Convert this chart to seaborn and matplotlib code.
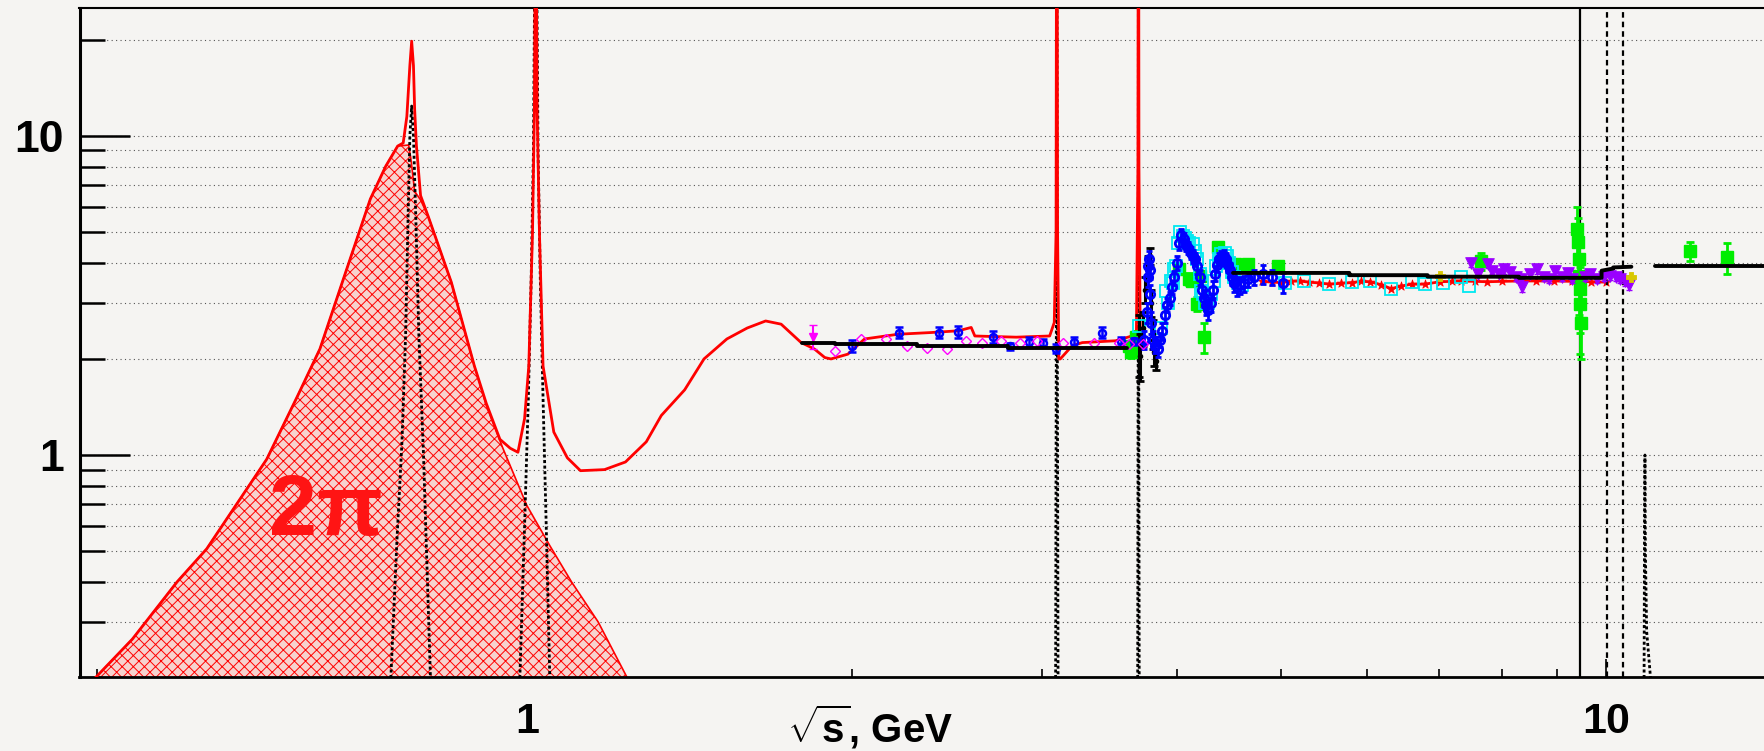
import matplotlib
matplotlib.use("Agg")
import matplotlib.pyplot as plt
import seaborn as sns
from matplotlib.ticker import FixedLocator, FixedFormatter, NullFormatter

# ---------------- data ----------------
# 2pi contribution (hatched area)
x2pi = [0.398, 0.431, 0.474, 0.505, 0.574, 0.613, 0.643, 0.676, 0.716, 0.740, 0.759, 0.777, 0.781,
        0.787, 0.797, 0.810, 0.851, 0.894, 0.917, 0.950, 1.000, 1.050, 1.100, 1.164, 1.239]
y2pi = [0.20, 0.265, 0.40, 0.508, 0.97, 1.53, 2.15, 3.56, 6.34, 8.04, 9.29, 9.36, 8.4,
        6.7, 6.3, 5.6, 3.48, 1.90, 1.43, 1.05, 0.694, 0.52, 0.40, 0.30, 0.20]

# total R (red curve)
red_x = [0.398, 0.431, 0.474, 0.505, 0.574, 0.613, 0.643, 0.676, 0.716, 0.740, 0.759, 0.768, 0.774,
         0.779, 0.782, 0.785, 0.787, 0.790, 0.797, 0.810, 0.851, 0.894, 0.917, 0.944, 0.965, 0.981,
         0.995, 1.004, 1.012, 1.016, 1.019, 1.022, 1.027, 1.035, 1.059, 1.090, 1.121, 1.180, 1.234,
         1.290, 1.332, 1.400, 1.459, 1.532, 1.600, 1.664, 1.720, 1.795, 1.846, 1.888, 1.913, 1.983,
         2.055, 2.207, 2.370, 2.510, 2.580, 2.600, 2.840, 3.050, 3.080, 3.092, 3.097, 3.102, 3.110,
         3.120, 3.200, 3.270, 3.510, 3.620, 3.670, 3.682, 3.686, 3.690, 3.700]
red_y = [0.20, 0.265, 0.40, 0.508, 0.97, 1.53, 2.15, 3.56, 6.34, 8.04, 9.29, 9.50, 11.5,
         16.6, 19.8, 16.6, 12.1, 9.3, 6.5, 5.6, 3.48, 1.90, 1.45, 1.12, 1.05, 1.02,
         1.30, 1.90, 5.0, 12.0, 80.0, 12.0, 5.0, 1.90, 1.18, 0.98, 0.893, 0.90, 0.951,
         1.10, 1.33, 1.60, 2.00, 2.31, 2.50, 2.63, 2.57, 2.25, 2.15, 2.02, 2.00, 2.07,
         2.31, 2.39, 2.42, 2.45, 2.51, 2.36, 2.34, 2.36, 2.60, 5.0, 300.0, 5.0, 2.00,
         2.00, 2.20, 2.25, 2.28, 2.35, 2.43, 8.0, 300.0, 8.0, 2.40]

# red data band above open charm
redband_x = [4.80, 4.90, 5.00, 5.10, 5.20, 5.30, 5.42, 5.54, 5.68, 5.81, 5.93, 6.04, 6.18, 6.32, 6.45,
             6.60, 6.79, 7.01, 7.20, 7.33, 7.55, 7.76, 8.00, 8.33, 8.60, 8.94, 9.30, 9.68, 10.00]
redband_y = [3.50, 3.48, 3.47, 3.50, 3.51, 3.48, 3.46, 3.43, 3.45, 3.47, 3.50, 3.49, 3.42, 3.32, 3.38,
             3.43, 3.43, 3.49, 3.50, 3.51, 3.50, 3.49, 3.50, 3.51, 3.51, 3.51, 3.50, 3.49, 3.48]

# narrow resonances (dotted black)
omega_x = [0.748, 0.758, 0.766, 0.772, 0.776, 0.779, 0.782, 0.785, 0.789, 0.794, 0.802, 0.814]
omega_y = [0.20, 0.55, 1.10, 2.40, 5.50, 10.0, 12.4, 10.0, 5.50, 2.40, 1.00, 0.20]
phi_x = [0.985, 0.995, 1.003, 1.009, 1.014, 1.019, 1.024, 1.029, 1.035, 1.042, 1.050]
phi_y = [0.20, 0.60, 1.50, 3.50, 9.0, 90.0, 9.0, 3.50, 1.50, 0.60, 0.20]
jpsi_x = [3.089, 3.095, 3.097, 3.099, 3.105]
jpsi_y = [0.20, 5.0, 300.0, 5.0, 0.20]
psi2s_x = [3.680, 3.685, 3.686, 3.687, 3.692]
psi2s_y = [0.20, 5.0, 300.0, 5.0, 0.20]
ups5_x = [10.84, 10.85, 10.86, 10.87, 10.90, 10.99]
ups5_y = [0.20, 0.60, 1.00, 0.50, 0.28, 0.20]
ups_solid = [9.46]
ups_dashed = [10.02, 10.36]

# pQCD (black steps)
pqcd1_x = [1.80, 1.93, 1.93, 2.30, 2.30, 2.79, 2.79, 3.60]
pqcd1_y = [2.24, 2.24, 2.22, 2.22, 2.20, 2.20, 2.17, 2.17]
pqcd2_x = [4.51, 5.78, 5.78, 6.83, 6.83, 8.30, 8.30, 9.90, 9.90, 10.15, 10.15, 10.55]
pqcd2_y = [3.72, 3.72, 3.66, 3.66, 3.62, 3.62, 3.59, 3.59, 3.78, 3.84, 3.87, 3.89]
pqcd3_x = [11.10, 14.0]
pqcd3_y = [3.90, 3.90]

# blue open circles (low energy)
blue_lo_x = [2.00, 2.21, 2.41, 2.51, 2.70, 2.80, 2.92, 3.01, 3.09, 3.21, 3.41, 3.55, 3.65]
blue_lo_y = [2.20, 2.42, 2.42, 2.43, 2.34, 2.19, 2.26, 2.25, 2.15, 2.26, 2.42, 2.28, 2.27]
blue_lo_e = [0.10, 0.10, 0.09, 0.10, 0.10, 0.06, 0.08, 0.06, 0.07, 0.08, 0.10, 0.06, 0.06]

# blue open circles (charm region)
blue_cc_x = [3.73, 3.75, 3.76, 3.765, 3.77, 3.775, 3.78, 3.79, 3.80, 3.82, 3.84, 3.86, 3.88, 3.90,
             3.92, 3.94, 3.96, 3.98, 4.00, 4.02, 4.04, 4.06, 4.08, 4.10, 4.12, 4.14, 4.16, 4.18,
             4.20, 4.22, 4.24, 4.26, 4.28, 4.30, 4.32, 4.34, 4.36, 4.38, 4.40, 4.42, 4.44, 4.46,
             4.48, 4.50, 4.52, 4.55, 4.58, 4.62, 4.66, 4.72, 4.81, 4.90, 5.02]
blue_cc_y = [2.3, 2.8, 3.6, 3.9, 4.1, 3.8, 3.2, 2.6, 2.3, 2.2, 2.15, 2.3, 2.45, 2.75,
             2.95, 3.1, 3.35, 3.6, 4.0, 4.6, 4.9, 4.75, 4.55, 4.45, 4.3, 4.2, 4.1, 3.9,
             3.6, 3.3, 3.1, 2.95, 2.85, 3.0, 3.3, 3.7, 3.95, 4.1, 4.15, 4.2, 4.1, 3.95,
             3.8, 3.6, 3.45, 3.35, 3.4, 3.45, 3.55, 3.6, 3.69, 3.6, 3.47]
blue_cc_e = [0.15, 0.2, 0.25, 0.25, 0.25, 0.25, 0.2, 0.2, 0.15, 0.12, 0.12, 0.12, 0.15, 0.15,
             0.15, 0.15, 0.15, 0.18, 0.2, 0.2, 0.2, 0.2, 0.2, 0.2, 0.2, 0.2, 0.2, 0.2,
             0.2, 0.2, 0.2, 0.2, 0.2, 0.2, 0.2, 0.2, 0.2, 0.2, 0.2, 0.2, 0.2, 0.2,
             0.2, 0.2, 0.2, 0.2, 0.2, 0.2, 0.2, 0.2, 0.25, 0.2, 0.25]

# cyan open squares
cyan_x = [3.69, 3.87, 3.91, 3.93, 3.95, 3.97, 3.98, 3.99, 4.01, 4.03, 4.05, 4.07, 4.09, 4.11, 4.14,
          4.16, 4.18, 4.20, 4.21, 4.23, 4.25, 4.28, 4.30, 4.33, 4.35, 4.38, 4.40, 4.43, 4.45, 4.47,
          4.50, 4.52, 4.56, 4.60, 5.04, 5.25, 5.54, 5.81, 6.04, 6.32, 6.60, 6.79, 7.06, 7.33, 7.46]
cyan_y = [2.54, 2.50, 3.27, 3.00, 3.50, 3.45, 3.82, 3.90, 4.60, 4.98, 4.85, 4.80, 4.70, 4.60, 4.58,
          4.35, 4.10, 3.70, 3.27, 3.20, 3.00, 3.00, 3.20, 3.50, 3.90, 4.10, 4.25, 4.31, 4.20, 4.00,
          3.75, 3.60, 3.45, 3.40, 3.47, 3.51, 3.43, 3.49, 3.51, 3.32, 3.49, 3.43, 3.47, 3.60, 3.39]

# green filled squares
green_x = [3.61, 3.63, 3.67, 4.02, 4.11, 4.13, 4.18, 4.20, 4.24, 4.37, 4.53, 4.66, 4.96, 7.65,
           9.40, 9.42, 9.43, 9.44, 9.45, 9.46, 9.47, 11.95, 12.95]
green_y = [2.20, 2.10, 2.35, 3.83, 3.56, 3.51, 2.97, 3.65, 2.34, 4.47, 3.96, 3.96, 3.91, 4.06,
           5.10, 4.64, 4.11, 3.64, 3.31, 2.97, 2.60, 4.35, 4.16]
green_e = [0.08, 0.08, 0.10, 0.15, 0.15, 0.12, 0.15, 0.12, 0.25, 0.15, 0.12, 0.12, 0.15, 0.25,
           0.9, 0.9, 0.9, 0.9, 0.9, 0.9, 0.6, 0.31, 0.47]

# magenta open diamonds and one triangle
mag_x = [1.93, 2.04, 2.15, 2.25, 2.35, 2.45, 2.55, 2.64, 2.75, 2.86, 2.97, 3.14, 3.35, 3.54, 3.61, 3.72]
mag_y = [2.12, 2.31, 2.31, 2.20, 2.17, 2.15, 2.28, 2.25, 2.28, 2.25, 2.28, 2.25, 2.25, 2.25, 2.22, 2.22]
magtri_x = [1.84]
magtri_y = [2.35]
magtri_e = [0.20]

# purple filled inverted triangles
pur_x = [7.49, 7.60, 7.77, 7.84, 7.95, 8.04, 8.15, 8.25, 8.33, 8.36, 8.50, 8.62, 8.75, 8.85,
         8.97, 9.10, 9.21, 9.30, 9.55, 9.65, 9.80, 9.95, 10.09, 10.20, 10.30, 10.41, 10.50]
pur_y = [4.01, 3.70, 3.98, 3.78, 3.70, 3.82, 3.75, 3.60, 3.56, 3.35, 3.70, 3.82, 3.62, 3.55,
         3.78, 3.60, 3.73, 3.55, 3.60, 3.70, 3.55, 3.60, 3.65, 3.60, 3.55, 3.50, 3.40]
pur_e = [0.12, 0.10, 0.12, 0.10, 0.10, 0.12, 0.10, 0.10, 0.10, 0.12, 0.10, 0.12, 0.10, 0.10,
         0.12, 0.10, 0.12, 0.10, 0.10, 0.10, 0.10, 0.10, 0.12, 0.10, 0.10, 0.12, 0.12]

# black points at charm threshold
blk_x = [3.69, 3.70, 3.72, 3.74, 3.76, 3.78, 3.79, 3.80, 3.81, 3.83]
blk_y = [2.25, 2.05, 2.50, 3.30, 3.90, 4.20, 3.00, 2.40, 2.10, 1.97]
blk_e = [0.50, 0.35, 0.30, 0.30, 0.30, 0.25, 0.30, 0.25, 0.20, 0.12]

# yellow stars
yel_x = [7.01, 10.55]
yel_y = [3.65, 3.60]

x_major = [1, 10]
x_major_labels = ["1", "10"]
x_minor = [0.4, 0.5, 0.6, 0.7, 0.8, 0.9, 2, 3, 4, 5, 6, 7, 8, 9]
y_major = [1, 10]
y_major_labels = ["1", "10"]
y_minor = [0.3, 0.4, 0.5, 0.6, 0.7, 0.8, 0.9, 2, 3, 4, 5, 6, 7, 8, 9, 20]

# ---------------- style ----------------
BG = "#f5f4f2"
sns.set_theme(style="white")
plt.rcParams["font.family"] = ["Liberation Sans", "DejaVu Sans"]
plt.rcParams["font.weight"] = "bold"
plt.rcParams["mathtext.fontset"] = "custom"
plt.rcParams["mathtext.rm"] = "Liberation Sans"
plt.rcParams["mathtext.bf"] = "Liberation Sans:bold"
plt.rcParams["hatch.linewidth"] = 0.7

W, H = 1764, 751
fig = plt.figure(figsize=(W / 100, H / 100), dpi=100, facecolor=BG)
ax = fig.add_axes([79.5 / W, 1 - 676.7 / H, 1 - 79.5 / W, (676.7 - 8.3) / H])
ax.set_facecolor(BG)
ax.set_xscale("log")
ax.set_yscale("log")

RED = "#ff0000"
DOT = (0, (1.1, 0.9))

# hatched 2pi area
ax.fill_between(x2pi, 0.2, y2pi, facecolor="#f7d2ce", edgecolor=RED, hatch="xxx",
                linewidth=1.2, zorder=2)

# dotted resonance curves
for xs, ys in [(omega_x, omega_y), (phi_x, phi_y), (jpsi_x, jpsi_y),
               (psi2s_x, psi2s_y), (ups5_x, ups5_y)]:
    sns.lineplot(x=xs, y=ys, ax=ax, sort=False, estimator=None, color="black",
                 linewidth=2.0, linestyle=DOT, zorder=4)

# red total
sns.lineplot(x=red_x, y=red_y, ax=ax, sort=False, estimator=None, color=RED,
             linewidth=2.0, zorder=5)
sns.lineplot(x=redband_x, y=redband_y, ax=ax, sort=False, estimator=None, color=RED,
             linewidth=2.0, zorder=5)
sns.scatterplot(x=redband_x, y=redband_y, ax=ax, marker="*", s=45, color=RED,
                edgecolor=RED, linewidth=0.5, zorder=5)

# upsilons
for m in ups_solid:
    ax.axvline(m, color="black", linewidth=1.6, zorder=6)
for m in ups_dashed:
    ax.axvline(m, color="black", linewidth=1.6, linestyle=(0, (2.5, 1.8)), zorder=6)

# data points
ax.errorbar(green_x, green_y, yerr=green_e, fmt="s", ms=8, color="#00ee00", mec="#00ee00",
            elinewidth=2.0, capsize=3, capthick=2, zorder=6)
ax.errorbar(cyan_x, cyan_y, fmt="s", ms=9, mfc="none", mec="#00e8f0", mew=1.3,
            linestyle="none", zorder=7)
ax.errorbar(blk_x, blk_y, yerr=blk_e, fmt="o", ms=3, color="black", elinewidth=2.2,
            capsize=3, capthick=2, zorder=7)
ax.errorbar(blue_cc_x, blue_cc_y, yerr=blue_cc_e, fmt="o", ms=6, mfc="none", mec="#0000ff",
            mew=2.0, ecolor="#0000ff", elinewidth=2.0, capsize=2, zorder=8)
ax.errorbar(blue_lo_x, blue_lo_y, yerr=blue_lo_e, fmt="o", ms=5, mfc="none", mec="#0000ff",
            mew=1.8, ecolor="#0000ff", elinewidth=1.8, capsize=3, capthick=1.8, zorder=8)
ax.errorbar(mag_x, mag_y, fmt="D", ms=5, mfc="none", mec="#ff00ff", mew=1.0,
            linestyle="none", zorder=8)
ax.errorbar(magtri_x, magtri_y, yerr=magtri_e, fmt="v", ms=6, color="#ff00ff",
            elinewidth=1.5, capsize=3, zorder=8)
ax.errorbar(pur_x, pur_y, yerr=pur_e, fmt="none", ecolor="#9a00ff", elinewidth=1.5,
            capsize=2, zorder=8)
sns.scatterplot(x=pur_x, y=pur_y, ax=ax, marker="v", s=70, color="#9a00ff",
                edgecolor="#9a00ff", zorder=8)
sns.scatterplot(x=yel_x, y=yel_y, ax=ax, marker="P", s=60, color="#d8c800",
                edgecolor="#d8c800", zorder=8)

# pQCD steps
for xs, ys in [(pqcd1_x, pqcd1_y), (pqcd2_x, pqcd2_y), (pqcd3_x, pqcd3_y)]:
    sns.lineplot(x=xs, y=ys, ax=ax, sort=False, estimator=None, color="black",
                 linewidth=2.8, zorder=9)

ax.text(0.652, 0.66, "2π", color="#ff1414", fontsize=62, fontweight="bold",
        ha="center", va="center", zorder=10)

# axes
ax.set_xlim(0.385, 14.0)
ax.set_ylim(0.202, 25.1)
ax.xaxis.set_major_locator(FixedLocator(x_major))
ax.xaxis.set_major_formatter(FixedFormatter(x_major_labels))
ax.xaxis.set_minor_locator(FixedLocator(x_minor))
ax.xaxis.set_minor_formatter(NullFormatter())
ax.yaxis.set_major_locator(FixedLocator(y_major))
ax.yaxis.set_major_formatter(FixedFormatter(y_major_labels))
ax.yaxis.set_minor_locator(FixedLocator(y_minor))
ax.yaxis.set_minor_formatter(NullFormatter())
ax.grid(False)
ax.yaxis.grid(True, which="both", color="#555555", linestyle=(0, (1, 3)), linewidth=0.8, zorder=0)
ax.set_axisbelow(True)

ax.tick_params(axis="y", which="major", direction="in", length=36, width=1.8,
               labelsize=32, pad=11, color="black", labelcolor="black", left=True)
ax.tick_params(axis="y", which="minor", direction="in", length=18, width=1.8, color="black", left=True)
ax.tick_params(axis="x", which="major", direction="in", length=13, width=1.2,
               labelsize=31, pad=18, color="black", labelcolor="black", bottom=True)
ax.tick_params(axis="x", which="minor", direction="in", length=6, width=1.2, color="black", bottom=True)
for lab in ax.get_xticklabels() + ax.get_yticklabels():
    lab.set_fontweight("bold")

for side, lw in [("left", 2.2), ("bottom", 2.0), ("top", 1.5)]:
    ax.spines[side].set_visible(True)
    ax.spines[side].set_color("black")
    ax.spines[side].set_linewidth(lw)
ax.spines["right"].set_visible(False)
ax.set_xlabel("")
ax.set_ylabel("")
if ax.get_legend() is not None:
    ax.get_legend().remove()

fig.text(870 / W, 1 - 727 / H, r"$\mathbf{\sqrt{s}}$, GeV", ha="center", va="center",
         fontsize=29, fontweight="bold", color="black")

fig.savefig("out.png", dpi=100, facecolor=BG)
